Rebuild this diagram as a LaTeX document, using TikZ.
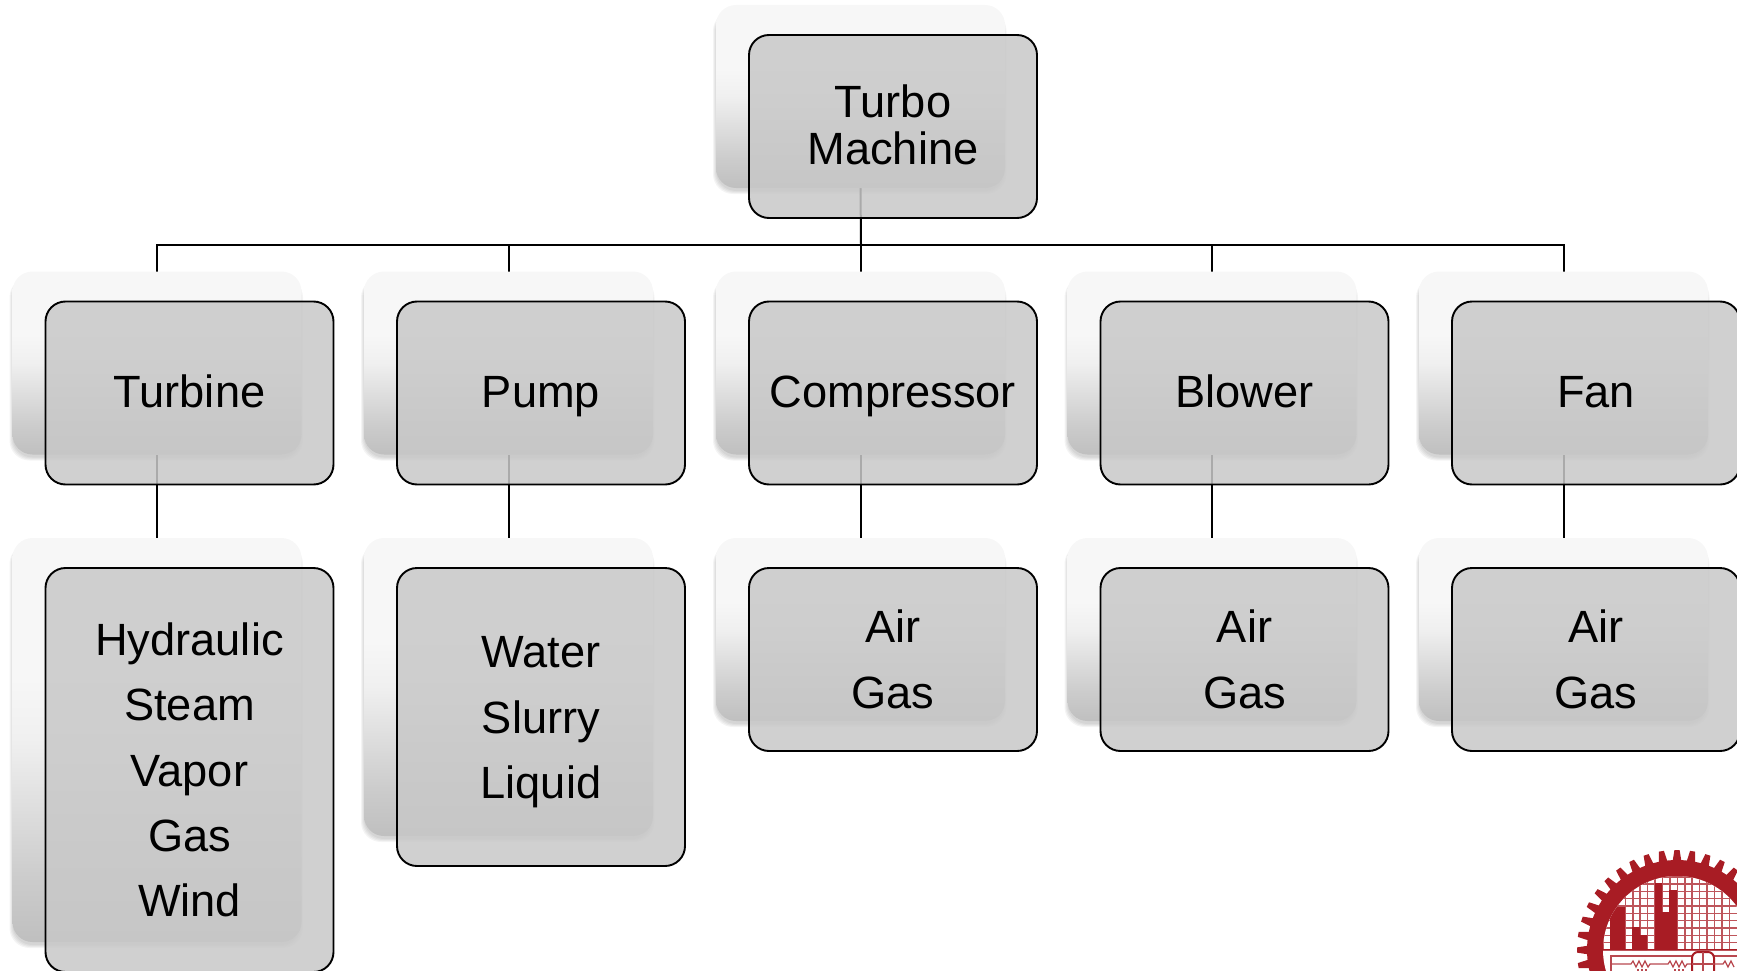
\documentclass[tikz,border=0pt]{standalone}
\usepackage{fontspec}
\setmainfont{Liberation Sans}
\usetikzlibrary{backgrounds}
\definecolor{logored}{HTML}{A81C24}
\definecolor{frontgrey}{HTML}{C8C8C8}
\pgfdeclareverticalshading{cardfade}{100bp}{%
 color(0bp)=(black!25); color(25bp)=(black!25); color(33bp)=(black!20);
 color(50bp)=(black!6); color(58bp)=(black!3); color(75bp)=(black!3); color(100bp)=(black!3)}
\tikzset{
 x=1pt,y=-1pt,
 backcard/.style={rounded corners=20pt,shading=cardfade,minimum width=289pt,inner sep=0pt,outer sep=0pt},
 frontcard/.style={draw=black,line width=1.9pt,rounded corners=20pt,fill=frontgrey,fill opacity=.85,
   draw opacity=1,text opacity=1,minimum width=288pt,inner sep=0pt,outer sep=0pt,align=center,text=black},
 title/.style={font=\fontsize{45.2}{47}\selectfont},
 list/.style={font=\fontsize{45.2}{65.3}\selectfont},
 link/.style={draw=black,line width=2pt},
}
\newcommand\ttl[1]{\rule[-4.4pt]{0pt}{37.4pt}\smash{#1}}
\newcommand\lsl[1]{\rule[-0.9pt]{0pt}{33.9pt}\smash{#1}}
% #1 name, #2 centre x, #3 centre y, #4 height, #5 text style, #6 text
\newcommand\cardpair[6]{%
 \foreach \s in {3.5,2.5,1.5,.5}{
  \fill[black,opacity=.045,rounded corners=20pt]
   ({#2-32.5-144.5-\s+.5},{#3-30-#4/2+6}) rectangle ({#2-32.5+144.5+\s-2},{#3-30+#4/2+2.5+\s});
 }
 \node[backcard,minimum height=#4 pt] (b#1) at ({#2-32.5},{#3-30}) {};
 \node[frontcard,#5,minimum height=#4 pt] (f#1) at (#2,#3) {#6};
}
\begin{document}
\begin{tikzpicture}
\useasboundingbox (0,0) rectangle (1737,971);
\clip (0,0) rectangle (1737,971);
\cardpair{root}{893}{126.5}{183}{title}{\ttl{Turbo}\\\ttl{Machine}}
\cardpair{a}{189.5}{393}{183}{title}{\ttl{Turbine}}
\cardpair{b}{541}{393}{183}{title}{\ttl{Pump}}
\cardpair{c}{893}{393}{183}{title}{\ttl{Compressor}}
\cardpair{d}{1244.5}{393}{183}{title}{\ttl{Blower}}
\cardpair{e}{1596}{393}{183}{title}{\ttl{Fan}}
\cardpair{p}{189.5}{770}{404}{list}{\lsl{Hydraulic}\\\lsl{Steam}\\\lsl{Vapor}\\\lsl{Gas}\\\lsl{Wind}}
\cardpair{q}{541}{717}{298}{list}{\lsl{Water}\\\lsl{Slurry}\\\lsl{Liquid}}
\cardpair{r}{893}{659.5}{183}{list}{\lsl{Air}\\\lsl{Gas}}
\cardpair{s}{1244.5}{659.5}{183}{list}{\lsl{Air}\\\lsl{Gas}}
\cardpair{t}{1596}{659.5}{183}{list}{\lsl{Air}\\\lsl{Gas}}
\coordinate (bus) at (861,245);
\begin{pgfonlayer}{background}
 \draw[link] (broot.south) -- (bus);
 \foreach \n in {a,b,c,d,e}{
  \draw[link] (bus) -- (bus -| b\n.north) -- (b\n.north);
 }
 \draw[link] (ba.south) -- (bp.north);
 \draw[link] (bb.south) -- (bq.north);
 \draw[link] (bc.south) -- (br.north);
 \draw[link] (bd.south) -- (bs.north);
 \draw[link] (be.south) -- (bt.north);
\end{pgfonlayer}
% emblem
\begin{scope}[shift={(1677,950)}]
 \fill[logored] (0,0) circle[radius=90pt];
 \foreach \a in {0,9,...,351}{
  \begin{scope}[rotate=\a]
   \fill[logored] (-4.5,-88) -- (-2.6,-100) -- (2.6,-100) -- (4.5,-88) -- cycle;
  \end{scope}
 }
 \fill[white] (0,0) circle[radius=74pt];
 \begin{scope}
  \clip (0,0) circle[radius=74pt];
  \clip (-80,-80) rectangle (80,0);
  \foreach \i in {-10,...,10}{
   \draw[logored!75!white,line width=1.6pt] ({-22+7.43*\i},-80) -- ({-22+7.43*\i},0);
  }
  \foreach \j in {0,...,11}{
   \draw[logored!75!white,line width=1.6pt] (-80,{-7.33*\j}) -- (80,{-7.33*\j});
  }
  \fill[logored] (-67,-43) -- (-52,-43) -- (-52,0) -- (-67,0) -- cycle;
  \fill[logored] (-45,-23) -- (-37,-23) -- (-37,-15) -- (-30,-15) -- (-30,0) -- (-45,0) -- cycle;
  \fill[logored] (-22,-67) -- (-15,-67) -- (-15,-38) -- (-8,-38) -- (-8,-60) -- (0,-60) -- (0,0) -- (-22,0) -- cycle;
  \fill[logored] (-80,-1.2) rectangle (80,0);
 \end{scope}
 \draw[logored!80!white,line width=1.4pt] (-66,25) -- (-66,6) -- (60,6);
 \draw[logored!80!white,line width=1.2pt] (-66,14) -- (-46,14) -- ++(2,-3) -- ++(3,6) -- ++(3,-6) -- ++(3,6) -- ++(3,-6) -- ++(3,6) -- ++(2,-3)
   -- (-9,14) -- ++(2,-3) -- ++(3,6) -- ++(3,-6) -- ++(3,6) -- ++(3,-6) -- ++(3,6) -- ++(2,-3) -- (15,14);
 \draw[logored,line width=2pt,fill=white,rounded corners=6pt] (15,25) -- (15,2) -- (37,2) -- (37,25);
 \draw[logored!80!white,line width=1.2pt] (26,2) -- (26,25) (15,14) -- (37,14);
 \draw[logored!80!white,line width=1.2pt] (37,14) -- (46,14) -- ++(2,-3) -- ++(3,6) -- ++(3,-6) -- ++(3,6);
 \draw[logored!80!white,line width=1.2pt,dash pattern=on 2pt off 2pt] (-40,20) -- (-30,20) (-3,20) -- (8,20);
\end{scope}
\end{tikzpicture}
\end{document}
